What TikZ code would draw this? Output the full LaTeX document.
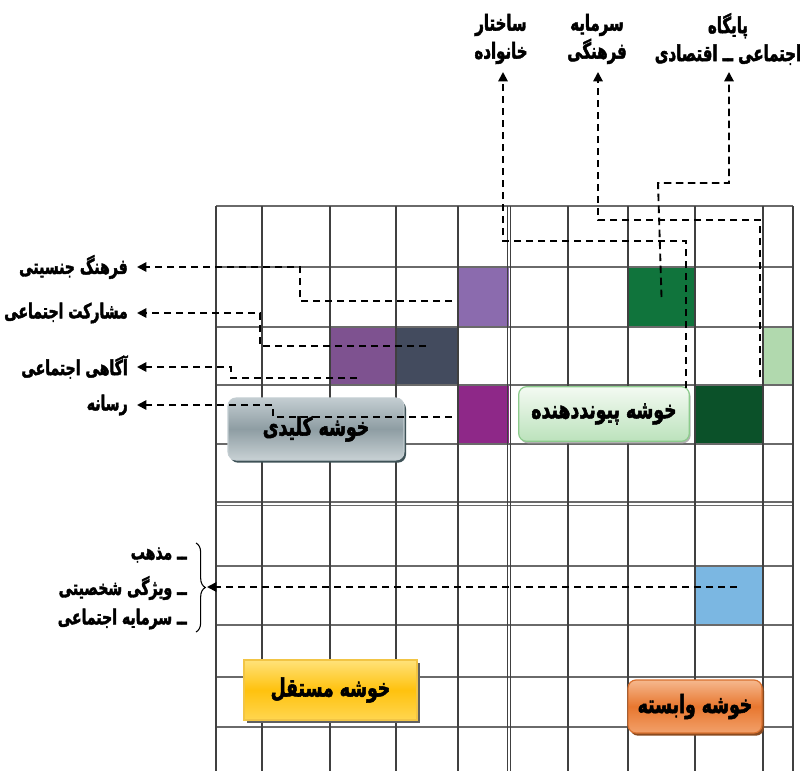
\documentclass[tikz,border=0pt]{standalone}
\usepackage{fontspec}
\newfontfamily\fa[Script=Arabic, FakeStretch=0.68, FakeBold=2]{DejaVu Sans}
\TeXXeTstate=1
\usetikzlibrary{arrows.meta,shadows,fit,decorations.pathreplacing}
\newcommand\fatext[1]{\beginR #1\endR}
\definecolor{gridv}{HTML}{404040}
\definecolor{gridh}{HTML}{6A6A6A}
\definecolor{cLP}{HTML}{8B6BAE}
\definecolor{cDG}{HTML}{10743C}
\definecolor{cPU}{HTML}{7E5290}
\definecolor{cSL}{HTML}{434B5E}
\definecolor{cLG}{HTML}{B1D9AE}
\definecolor{cMG}{HTML}{8E2888}
\definecolor{cVG}{HTML}{0B5129}
\definecolor{cLB}{HTML}{7BB7E2}
\definecolor{kTop}{HTML}{C3CDD1}
\definecolor{kMid}{HTML}{8E9DA3}
\definecolor{kBot}{HTML}{C8D1D4}
\definecolor{kSh}{HTML}{3E5257}
\definecolor{pTop}{HTML}{F3FAF2}
\definecolor{pBot}{HTML}{BCE2BC}
\definecolor{pBd}{HTML}{8CCB8C}
\definecolor{mTop}{HTML}{FFE27A}
\definecolor{mMid}{HTML}{FFC20E}
\definecolor{mBot}{HTML}{FFD650}
\definecolor{mBd}{HTML}{F2C545}
\definecolor{vTop}{HTML}{F5B88E}
\definecolor{vMid}{HTML}{E8772F}
\definecolor{vBot}{HTML}{F2A06A}
\definecolor{vBd}{HTML}{D9702E}
\definecolor{vSh}{HTML}{8A4A1F}
\begin{document}
\begin{tikzpicture}[x=0.75pt,y=-0.75pt,
  cellbox/.style={inner sep=0pt, outer sep=0pt, draw=none},
  conn/.style={draw=black, line width=1.4pt, dash pattern=on 5.5pt off 3.5pt},
  arr/.style={-{Triangle[length=7pt,width=7pt]}},
  lbl/.style={font=\fa\bfseries\fontsize{15.5}{17}\selectfont, inner sep=0pt},
  toplbl/.style={font=\fa\bfseries\fontsize{16.5}{21}\selectfont, align=center, inner sep=0pt},
  clus/.style={font=\fa\bfseries\fontsize{19}{21}\selectfont, inner sep=0pt, outer sep=0pt},
]
\useasboundingbox (0,0) rectangle (800,771);
\fill[white] (0,0) rectangle (800,771);

% coloured cells
\node[cellbox, fill=cLP, fit={(458,267) (509,327)}] (lp) {};
\node[cellbox, fill=cDG, fit={(628,267) (695,327)}] (dg) {};
\node[cellbox, fill=cPU, fit={(330,327) (396,385)}] (pu) {};
\node[cellbox, fill=cSL, fit={(396,327) (458,385)}] (sl) {};
\node[cellbox, fill=cLG, fit={(763,327) (793,385)}] (lg) {};
\node[cellbox, fill=cMG, fit={(458,385) (509,444)}] (mg) {};
\node[cellbox, fill=cVG, fit={(695,385) (763,444)}] (vg) {};
\node[cellbox, fill=cLB, fit={(695,566) (763,625)}] (lb) {};

% grid
\foreach \y in {206,267,327,385,444,566,625,677,727}
  \draw[gridh, line width=0.8pt] (216,\y) -- (793,\y);
\draw[gridh, line width=0.8pt] (216,502) -- (793,502);
\draw[gridh, line width=0.8pt] (216,505.5) -- (793,505.5);
\foreach \x in {216,262,330,396,458,568,628,695,763,793}
  \draw[gridv, line width=0.8pt] (\x,206) -- (\x,771);
\draw[gridv, line width=0.8pt] (507.5,206) -- (507.5,771);
\draw[gridv, line width=0.8pt] (510.5,206) -- (510.5,771);

% cluster boxes
\node[clus, rounded corners=6pt, minimum width=132pt, minimum height=46.5pt,
  draw=kTop, line width=0.8pt, top color=kTop, bottom color=kBot, middle color=kMid,
  drop shadow={shadow xshift=1.5pt, shadow yshift=-2pt, fill=kSh, opacity=1}]
  (key) at (316,429) {\fatext{خوشه کلیدی}};
\node[clus, rounded corners=6pt, minimum width=128pt, minimum height=41pt,
  draw=pBd, line width=0.9pt, top color=pTop, bottom color=pBot,
  drop shadow={shadow xshift=1pt, shadow yshift=-1.5pt, fill=gray!60, opacity=1}]
  (link) at (604,414) {\fatext{خوشه پیونددهنده}};
\node[clus, minimum width=129.75pt, minimum height=45pt,
  draw=mBd, line width=0.9pt, top color=mTop, bottom color=mBot, middle color=mMid,
  drop shadow={shadow xshift=2pt, shadow yshift=-2pt, fill=gray!75!black, opacity=1}]
  (indep) at (330.5,690) {\fatext{خوشه مستقل}};
\node[clus, rounded corners=6pt, minimum width=100.5pt, minimum height=39.75pt,
  draw=vBd, line width=0.9pt, top color=vTop, bottom color=vBot, middle color=vMid,
  drop shadow={shadow xshift=1.5pt, shadow yshift=-2pt, fill=vSh, opacity=1}]
  (dep) at (695,706.5) {\fatext{خوشه وابسته}};

% top labels
\node[toplbl] (t1) at (501,39) {\fatext{ساختار}\\\fatext{خانواده}};
\node[toplbl] (t2) at (597,39) {\fatext{سرمایه}\\\fatext{فرهنگی}};
\node[toplbl] (t3) at (728,39) {\fatext{پایگاه}\\\fatext{اجتماعی ــ اقتصادی}};

% left labels
\node[lbl, anchor=east] (l1) at (128,267) {\fatext{فرهنگ جنسیتی}};
\node[lbl, anchor=east] (l2) at (128,313) {\fatext{مشارکت اجتماعی}};
\node[lbl, anchor=east] (l3) at (128,367) {\fatext{آگاهی اجتماعی}};
\node[lbl, anchor=east] (l4) at (128,405) {\fatext{رسانه}};

% list labels
\node[lbl, anchor=east] (b1) at (187,555) {\fatext{ــ مذهب}};
\node[lbl, anchor=east] (b2) at (187,588) {\fatext{ــ ویژگی شخصیتی}};
\node[lbl, anchor=east] (b3) at (187,619) {\fatext{ــ سرمایه اجتماعی}};
\draw[line width=0.8pt, decorate, decoration={brace, amplitude=7pt}]
  (196,543) -- (196,632) coordinate[midway] (br);

% connector end points
\coordinate (tipA) at (503,72);
\coordinate (tipB) at (598,72);
\coordinate (tipC) at (729,72);
\coordinate (tipD) at (137,267);
\coordinate (tipE) at (137,313);
\coordinate (tipF) at (137,367);
\coordinate (tipG) at (137,405);
\coordinate (tipH) at (207,587);
\coordinate (sA) at (686,388);
\coordinate (sB) at (760,377);
\coordinate (sD) at (452,301);
\coordinate (sE) at (426,346);
\coordinate (sF) at (357,378);
\coordinate (sG) at (452,417);
\coordinate (sH) at (737,587);

% connectors
\draw[conn, arr] (sA) -- (686,241) -- (503,241) -- (tipA);
\draw[conn, arr] (sB) -- (760,220) -- (598,220) -- (tipB);
\draw[conn, arr] (dg.center) -- (658,183) -- (729,183) -- (tipC);
\draw[conn, arr] (sD) -- (300,301) -- (300,267) -- (tipD);
\draw[conn, arr] (sE) -- (260,346) -- (260,313) -- (tipE);
\draw[conn, arr] (sF) -- (231,378) -- (231,367) -- (tipF);
\draw[conn, arr] (sG) -- (273,417) -- (273,405) -- (tipG);
\draw[conn, arr] (sH) -- (tipH);
\end{tikzpicture}
\end{document}
